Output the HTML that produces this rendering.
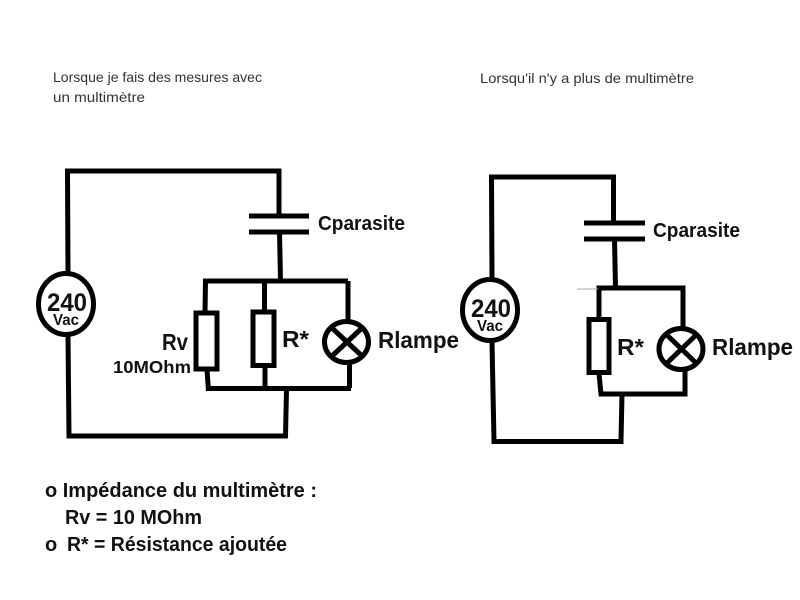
<!DOCTYPE html>
<html lang="fr">
<head>
<meta charset="utf-8">
<title>Circuits</title>
<style>
html,body{margin:0;padding:0;background:#fff;}
svg{display:block;}
text{font-family:"Liberation Sans",sans-serif;}
.b{font-weight:bold;fill:#111;}
.t{fill:#333;font-size:14px;}
</style>
</head>
<body>
<svg width="800" height="600" viewBox="0 0 800 600" xmlns="http://www.w3.org/2000/svg">
<rect width="800" height="600" fill="#fff"/>

<!-- Left circuit -->
<g fill="none" stroke="#000" stroke-width="5">
  <path d="M68 274 L67.5 171 L279 171 L279 216"/>
  <path d="M249 216 H309 M249 232 H309" />
  <path d="M279.5 232 L280.5 281"/>
  <path d="M207 281 H348"/>
  <path d="M205 312 L205.5 281 H212"/>
  <rect x="196" y="313" width="21" height="56"/>
  <path d="M207 370 L208.5 391 M207 388.5 H351"/>
  <path d="M264.5 281 V311"/>
  <rect x="253" y="312" width="21" height="53.5"/>
  <path d="M265 367 V388"/>
  <path d="M348 281 V321"/>
  <ellipse cx="346.5" cy="342" rx="22" ry="20.5"/>
  <path d="M332 328 L362 356 M362 328 L332 356"/>
  <path d="M349.5 363 V388"/>
  <path d="M286.5 389 L285.5 436 H69 L68 336"/>
  <ellipse cx="66" cy="304" rx="27.5" ry="30.5" fill="#fff"/>
</g>

<!-- Right circuit -->
<g fill="none" stroke="#000" stroke-width="5">
  <path d="M492 278 L491.5 177 H613.5 V223"/>
  <path d="M584 223 H645 M584 239 H645"/>
  <path d="M614.5 239 L615.5 288"/>
  <path d="M599 318 V288 H683 V328"/>
  <rect x="589" y="319.500" width="20" height="53"/>
  <path d="M599 374 L601 394 H685 V370"/>
  <ellipse cx="681" cy="349" rx="22" ry="20.500"/>
  <path d="M667 335 L696 363 M696 335 L667 363"/>
  <path d="M622 394 L621 441.500 H494 L492 342"/>
  <ellipse cx="490" cy="310" rx="27.500" ry="30.500" fill="#fff"/>
</g>
<path d="M577 289 H598" stroke="#aaa" stroke-width="1" fill="none"/>

<!-- Left labels -->
<text class="b" x="318" y="230" font-size="20" textLength="87" lengthAdjust="spacingAndGlyphs">Cparasite</text>
<text class="b" x="378" y="348" font-size="23" textLength="81" lengthAdjust="spacingAndGlyphs">Rlampe</text>
<text class="b" x="282" y="347" font-size="23" textLength="27" lengthAdjust="spacingAndGlyphs">R*</text>
<text class="b" x="162" y="350" font-size="23" textLength="26" lengthAdjust="spacingAndGlyphs">Rv</text>
<text class="b" x="113" y="373" font-size="17.500" textLength="78" lengthAdjust="spacingAndGlyphs">10MOhm</text>
<text class="b" x="47" y="311" font-size="25" textLength="40" lengthAdjust="spacingAndGlyphs">240</text>
<text class="b" x="53" y="325" font-size="16" textLength="26" lengthAdjust="spacingAndGlyphs">Vac</text>

<!-- Right labels -->
<text class="b" x="653" y="237" font-size="20" textLength="87" lengthAdjust="spacingAndGlyphs">Cparasite</text>
<text class="b" x="712" y="355" font-size="23" textLength="81" lengthAdjust="spacingAndGlyphs">Rlampe</text>
<text class="b" x="617" y="355" font-size="23" textLength="27" lengthAdjust="spacingAndGlyphs">R*</text>
<text class="b" x="471" y="317" font-size="25" textLength="40" lengthAdjust="spacingAndGlyphs">240</text>
<text class="b" x="477" y="331" font-size="16" textLength="26" lengthAdjust="spacingAndGlyphs">Vac</text>

<!-- Top captions -->
<text class="t" x="53" y="82" textLength="209" lengthAdjust="spacingAndGlyphs">Lorsque je fais des mesures avec</text>
<text class="t" x="53" y="102" textLength="92" lengthAdjust="spacingAndGlyphs">un multimètre</text>
<text class="t" x="480" y="83" textLength="214" lengthAdjust="spacingAndGlyphs">Lorsqu'il n'y a plus de multimètre</text>

<!-- Bottom notes -->
<text class="b" x="45" y="497" font-size="20" textLength="272" lengthAdjust="spacingAndGlyphs">o Impédance du multimètre :</text>
<text class="b" x="65" y="524" font-size="20" textLength="137" lengthAdjust="spacingAndGlyphs">Rv = 10 MOhm</text>
<text class="b" x="45" y="551" font-size="20">o</text>
<text class="b" x="67" y="551" font-size="20" textLength="220" lengthAdjust="spacingAndGlyphs">R* = Résistance ajoutée</text>
</svg>
</body>
</html>
